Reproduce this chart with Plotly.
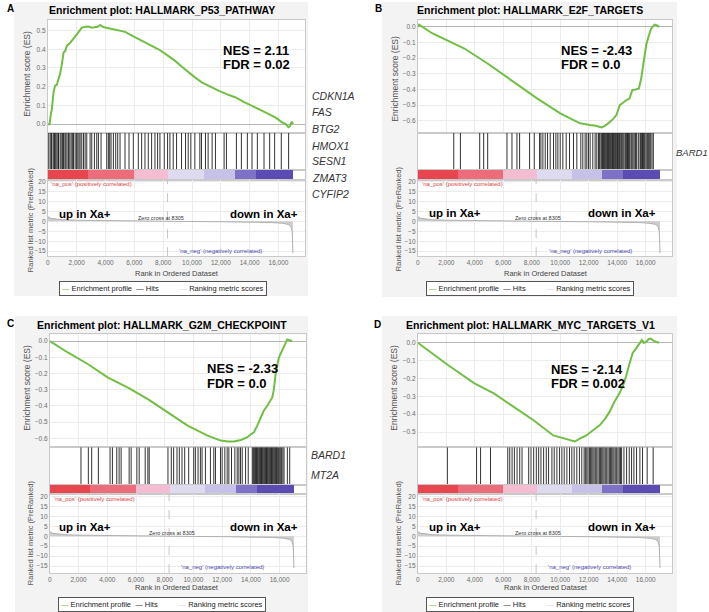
import plotly.graph_objects as go

W, H = 709, 612

# ---------------- data ----------------
panel_letters = ["A", "B", "C", "D"]
titles = ["Enrichment plot: HALLMARK_P53_PATHWAY",
          "Enrichment plot: HALLMARK_E2F_TARGETS",
          "Enrichment plot: HALLMARK_G2M_CHECKPOINT",
          "Enrichment plot: HALLMARK_MYC_TARGETS_V1"]
nes_labels = ["NES = 2.11", "NES = -2.43", "NES = -2.33", "NES = -2.14"]
fdr_labels = ["FDR = 0.02", "FDR = 0.0", "FDR = 0.0", "FDR = 0.002"]
genes_a = ["CDKN1A", "FAS", "BTG2", "HMOX1", "SESN1", "ZMAT3", "CYFIP2"]
genes_b = ["BARD1"]
genes_c = ["BARD1", "MT2A"]
genes_d = []

x_ticks = [0, 2000, 4000, 6000, 8000, 10000, 12000, 14000, 16000]
es_ticks_a = [0.0, 0.1, 0.2, 0.3, 0.4, 0.5]
es_ticks_b = [0.0, -0.1, -0.2, -0.3, -0.4, -0.5, -0.6]
es_ticks_c = [0.0, -0.1, -0.2, -0.3, -0.4, -0.5, -0.6]
es_ticks_d = [0.0, -0.1, -0.2, -0.3, -0.4, -0.5]
metric_ticks = [20, 15, 10, 5, 0, -5, -10, -15]

es_rank_a = [0, 118, 200, 277, 395, 506, 620, 742, 850, 971, 1089, 1200, 1318, 1500, 1664,
             1850, 2011, 2200, 2358, 2600, 2820, 3050, 3283, 3450, 3630, 3800, 3977, 4300,
             4670, 5000, 5363, 5900, 6519, 7100, 7675, 8250, 8830, 9300, 9755, 10200, 10680,
             11250, 11835, 12400, 12991, 13550, 14147, 14700, 15303, 15800, 16227, 16500,
             16690, 16800, 16921, 17000]
es_val_a = [0.0, 0.0, 0.05, 0.08, 0.17, 0.206, 0.21, 0.24, 0.27, 0.32, 0.383, 0.39, 0.419,
            0.43, 0.445, 0.46, 0.48, 0.50, 0.516, 0.52, 0.521, 0.515, 0.516, 0.52, 0.53, 0.52,
            0.516, 0.51, 0.504, 0.50, 0.493, 0.47, 0.445, 0.423, 0.40, 0.37, 0.338, 0.307,
            0.277, 0.25, 0.223, 0.20, 0.179, 0.16, 0.144, 0.12, 0.10, 0.078, 0.055, 0.035,
            0.011, 0.0, -0.016, -0.01, 0.014, 0.0]

es_rank_b = [0, 93, 1000, 2575, 3271, 4894, 6520, 8370, 10000, 11390, 12088, 12500, 12895,
             13100, 13360, 13700, 13940, 14175, 14400, 14640, 14850, 15055, 15300, 15520,
             15680, 15800, 16030, 16200, 16375, 16610, 16800, 16960]
es_val_b = [0.0, 0.015, -0.04, -0.106, -0.138, -0.234, -0.34, -0.457, -0.553, -0.617, -0.628,
            -0.632, -0.643, -0.635, -0.617, -0.59, -0.564, -0.50, -0.485, -0.468, -0.46,
            -0.404, -0.40, -0.394, -0.33, -0.244, -0.117, -0.06, -0.011, 0.015, 0.01, 0.0]

es_rank_c = [0, 1276, 2663, 4050, 5437, 6824, 8211, 9598, 10985, 11907, 12400, 12830, 13300,
             13758, 14000, 14216, 14450, 14681, 14900, 15146, 15350, 15492, 15600, 15721,
             15950, 16255, 16533, 16700, 16880]
es_val_c = [0.0, -0.072, -0.143, -0.225, -0.287, -0.358, -0.44, -0.522, -0.583, -0.614,
            -0.62, -0.62, -0.61, -0.593, -0.575, -0.563, -0.52, -0.471, -0.43, -0.399, -0.37,
            -0.348, -0.30, -0.205, -0.102, -0.041, 0.01, 0.005, 0.0]

es_rank_d = [0, 2088, 3946, 5338, 6729, 8121, 9513, 10000, 10439, 11020, 11400, 11830, 12300,
             12763, 13100, 13459, 13800, 14155, 14400, 14616, 14850, 15080, 15250, 15428,
             15600, 15727, 15850, 16006, 16200, 16354, 16590, 16938]
es_val_d = [0.0, -0.123, -0.226, -0.283, -0.359, -0.434, -0.519, -0.53, -0.538, -0.553,
            -0.535, -0.519, -0.49, -0.462, -0.43, -0.387, -0.33, -0.283, -0.24, -0.189,
            -0.12, -0.057, -0.04, -0.019, -0.005, 0.015, 0.0, 0.004, 0.02, 0.024, 0.009, 0.0]

hits_a = [60, 161, 240, 277, 380, 461, 540, 623, 700, 738, 850, 923, 1010, 1084, 1180, 1246,
          1330, 1430, 1520, 1615, 1700, 1776, 1892, 1980, 2076, 2160, 2238, 2353, 2470, 2584,
          2699, 2930, 3045, 3230, 3391, 3507, 3691, 4083, 4199, 4290, 4383, 4545, 4706, 4845,
          5006, 5352, 5629, 5929, 6275, 6506, 6736, 6967, 7198, 7429, 7613, 7775, 8075, 8305,
          8467, 8698, 8928, 9274, 9551, 9736, 9920, 10197, 10543, 10658, 10935, 11120, 11397,
          11627, 12227, 12389, 13081, 13427, 13842, 14165, 14534, 14996, 15388, 15734, 16195,
          16703]
hits_b = [2522, 2989, 4343, 4623, 4904, 6258, 6608, 6958, 7145, 7846, 8173, 8546, 8640, 8780,
          8943, 9107, 9293, 9527, 9690, 9830, 9994, 10181, 10414, 10648, 10928, 11161, 11442,
          11582, 11745, 11862, 11979, 12095, 12282, 12446, 12562, 12680, 12749, 12850, 12913,
          12970, 13029, 13090, 13146, 13200, 13263, 13320, 13380, 13440, 13496, 13550, 13613,
          13670, 13730, 13790, 13847, 13900, 13963, 14020, 14080, 14160, 14244, 14310, 14384,
          14460, 14547, 14600, 14664, 14720, 14781, 14840, 14897, 14990, 15084, 15170, 15248,
          15300, 15364, 15480, 15598, 15650, 15715, 15770, 15831, 15890, 15948, 16030, 16111,
          16180, 16252, 16345, 16440, 16532]
hits_c = [2167, 2680, 2913, 3379, 4194, 4357, 4660, 4823, 4963, 5522, 5662, 6058, 6221, 6641,
          6827, 6920, 8225, 8458, 8621, 8854, 9017, 9204, 9390, 9670, 10019, 10136, 10322,
          10485, 10602, 10835, 11184, 11417, 11534, 11883, 12000, 12186, 12349, 12466, 12652,
          12885, 13048, 13165, 13281, 13398, 13631, 13817, 14097, 14160, 14213, 14270, 14330,
          14390, 14447, 14500, 14563, 14620, 14679, 14740, 14796, 14850, 14912, 14970, 15029,
          15090, 15145, 15200, 15262, 15320, 15378, 15440, 15495, 15550, 15612, 15670, 15728,
          15790, 15844, 15920, 16007, 16080, 16147, 16230, 16310, 16543, 16706]
hits_d = [2074, 4124, 4404, 5103, 6314, 6454, 6617, 6780, 6967, 7153, 7316, 7782, 7945, 8132,
          8318, 8481, 8644, 8831, 9017, 9180, 9413, 9576, 9763, 9949, 10112, 10275, 10462,
          10648, 10811, 10974, 11161, 11347, 11510, 11673, 11760, 11860, 11950, 12046, 12130,
          12209, 12290, 12372, 12460, 12559, 12650, 12745, 12830, 12908, 12990, 13071, 13160,
          13258, 13350, 13444, 13520, 13607, 13690, 13770, 13860, 13957, 14050, 14143, 14230,
          14306, 14469, 14656, 14842, 15005, 15168, 15355, 15588, 15774, 16100, 16520]

metric_rank = [0, 50, 200, 500, 1000, 2000, 4000, 6000, 8305, 10000, 12000, 14000, 15500,
               16300, 16700, 16850, 16950, 16985, 17000]
metric_val = [2.6, 2.0, 1.5, 1.1, 0.8, 0.55, 0.3, 0.15, 0.0, -0.1, -0.2, -0.35, -0.6, -1.0,
              -1.6, -2.5, -5.0, -12.0, -16.0]
zero_cross = 8305
cbar_edges = [0, 2800, 6000, 8350, 10800, 12950, 14400, 17000]

# ---------------- styles / layout ----------------
cbar_colors = ["#e8464f", "#ec6c7a", "#f4bdd2", "#dedaf0", "#c6c1e7", "#7d72c8", "#5a4cb2"]
GREEN = "#72be44"
FONT = "Liberation Sans, Arial, sans-serif"
X_RANGE = [0, 17850]

es_ranks = [es_rank_a, es_rank_b, es_rank_c, es_rank_d]
es_vals = [es_val_a, es_val_b, es_val_c, es_val_d]
hits_all = [hits_a, hits_b, hits_c, hits_d]
es_ticks_all = [es_ticks_a, es_ticks_b, es_ticks_c, es_ticks_d]
genes_all = [genes_a, genes_b, genes_c, genes_d]

panels = [
    dict(L=46, R=304, es=(18.3, 131), hits=(131, 168.5), cb=(168.5, 178.3), rk=(178.3, 255),
         es_range=[-0.045, 0.555], rk_range=[-17.5, 20.9], bg=(12, 0, 307, 295),
         letter=(3, 7), title=(160, 8), nes=(220, 49, 63), up=(55, 213), down=(299, 213),
         zc=(159, 216.5), pos=(47, 183), neg=(263, 250), estitle=(25, 72), rktitle=(28, 218),
         xtitle=(175, 272), legend=(161, 287.5), genes=(309, [94, 110, 127, 144, 160, 177, 193]),
         gsize=10.5),
    dict(L=417, R=672, es=(18.3, 131), hits=(131, 168.5), cb=(168.5, 178.3), rk=(178.3, 255),
         es_range=[-0.676, 0.043], rk_range=[-17.5, 20.9], bg=(381, 0, 677, 296),
         letter=(372, 7), title=(529, 8), nes=(559, 49, 63), up=(426, 212), down=(658, 212),
         zc=(538, 217), pos=(419, 183), neg=(634, 250), estitle=(394, 77), rktitle=(397, 217),
         xtitle=(546, 272), legend=(529, 287.5), genes=(673.5, [151]), gsize=9.5),
    dict(L=48, R=305, es=(333.5, 446.7), hits=(446.7, 484.5), cb=(484.5, 494), rk=(494, 573),
         es_range=[-0.655, 0.041], rk_range=[-18.5, 21], bg=(13, 315, 307, 612),
         letter=(3, 323), title=(160, 324), nes=(204, 368, 383), up=(55, 527), down=(299, 527),
         zc=(170, 533), pos=(50, 499), neg=(265, 567), estitle=(25, 387), rktitle=(28, 532),
         xtitle=(175, 587), legend=(160.5, 604), genes=(308, [454, 475]), gsize=10.5),
    dict(L=417, R=672, es=(333.5, 446.7), hits=(446.7, 484.5), cb=(484.5, 494), rk=(494, 573),
         es_range=[-0.585, 0.047], rk_range=[-18.5, 21], bg=(381, 315, 677, 612),
         letter=(371, 324), title=(530, 324), nes=(549, 369, 383), up=(426, 527), down=(658, 527),
         zc=(538, 533), pos=(419, 499), neg=(633, 567), estitle=(393, 387), rktitle=(397, 532),
         xtitle=(546, 587), legend=(529, 604), genes=(675, []), gsize=10.5),
]


def fx(px):
    return px / W


def fy(py):
    return 1 - py / H


fig = go.Figure()
layout_axes = {}
shapes = []
annotations = []
counter = [0]


def new_axes(L, R, top, bottom, xr, yr, xkw=None, ykw=None):
    counter[0] += 1
    n = counter[0]
    sx = "" if n == 1 else str(n)
    xid, yid = "x" + sx, "y" + sx
    base = dict(showline=True, mirror=True, linecolor="#c9c9c9", linewidth=1, zeroline=False,
                showgrid=False, ticks="", showticklabels=False, fixedrange=True)
    xa = dict(base, domain=[fx(L), fx(R)], range=xr, anchor=yid)
    ya = dict(base, domain=[fy(bottom), fy(top)], range=yr, anchor=xid)
    if xkw:
        xa.update(xkw)
    if ykw:
        ya.update(ykw)
    layout_axes["xaxis" + sx] = xa
    layout_axes["yaxis" + sx] = ya
    shapes.append(dict(type="rect", xref=xid + " domain", yref=yid + " domain", x0=0, x1=1,
                       y0=0, y1=1, fillcolor="white", line=dict(width=0), layer="below"))
    return xid, yid


def ann(x, y, text, size, color="#000", bold=False, italic=False, xanchor="center",
        yanchor="middle", angle=0, **kw):
    t = text
    if bold:
        t = "<b>" + t + "</b>"
    if italic:
        t = "<i>" + t + "</i>"
    d = dict(x=fx(x), y=fy(y), xref="paper", yref="paper", text=t, showarrow=False,
             font=dict(size=size, color=color, family=FONT), xanchor=xanchor, yanchor=yanchor,
             textangle=angle)
    d.update(kw)
    annotations.append(d)


tickfont = dict(size=6.5, color="#6b6b6b", family=FONT)
grid = "#ececec"

# gray panel backgrounds
for p in panels:
    x0, y0, x1, y1 = p["bg"]
    shapes.append(dict(type="rect", xref="paper", yref="paper", x0=fx(x0), x1=fx(x1),
                       y0=fy(y1), y1=fy(y0), fillcolor="#f3f3f3", line=dict(width=0),
                       layer="below"))

for i, p in enumerate(panels):
    L, R = p["L"], p["R"]
    # ES plot
    xe, ye = new_axes(L, R, p["es"][0], p["es"][1], X_RANGE, p["es_range"],
                      xkw=dict(showgrid=True, gridcolor=grid, tickvals=x_ticks),
                      ykw=dict(showgrid=True, gridcolor=grid, tickvals=es_ticks_all[i],
                               showticklabels=True, tickformat=".1f", tickfont=tickfont,
                               zeroline=True, zerolinecolor="#b5b5b5", zerolinewidth=1))
    fig.add_trace(go.Scatter(x=es_ranks[i], y=es_vals[i], mode="lines",
                             line=dict(color=GREEN, width=2), xaxis=xe, yaxis=ye,
                             showlegend=False, hoverinfo="skip"))
    # hits
    xh, yh = new_axes(L, R, p["hits"][0], p["hits"][1], X_RANGE, [0, 1])
    hx, hy = [], []
    for h in hits_all[i]:
        hx += [h, h, None]
        hy += [0, 1, None]
    fig.add_trace(go.Scatter(x=hx, y=hy, mode="lines", line=dict(color="rgba(15,15,15,0.85)",
                             width=1), xaxis=xh, yaxis=yh, showlegend=False, hoverinfo="skip"))
    # color bar
    xc, yc = new_axes(L, R, p["cb"][0], p["cb"][1], X_RANGE, [0, 1])
    centers = [(cbar_edges[k] + cbar_edges[k + 1]) / 2 for k in range(len(cbar_edges) - 1)]
    widths = [cbar_edges[k + 1] - cbar_edges[k] for k in range(len(cbar_edges) - 1)]
    fig.add_trace(go.Bar(x=centers, y=[1] * len(centers), width=widths, base=0,
                         marker=dict(color=cbar_colors, line=dict(width=0)), xaxis=xc, yaxis=yc,
                         showlegend=False, hoverinfo="skip"))
    # ranked list metric
    xr_, yr_ = new_axes(L, R, p["rk"][0], p["rk"][1], X_RANGE, p["rk_range"],
                        xkw=dict(showgrid=True, gridcolor=grid, tickvals=x_ticks,
                                 showticklabels=True, tickformat=",d", tickfont=tickfont),
                        ykw=dict(showgrid=True, gridcolor=grid, tickvals=metric_ticks,
                                 showticklabels=True, tickfont=tickfont))
    fig.add_trace(go.Scatter(x=[zero_cross, zero_cross], y=p["rk_range"], mode="lines",
                             line=dict(color="#c4c4c4", width=1, dash="dash"), xaxis=xr_,
                             yaxis=yr_, showlegend=False, hoverinfo="skip"))
    fig.add_trace(go.Scatter(x=metric_rank, y=metric_val, mode="lines", fill="tozeroy",
                             fillcolor="#cdcdcd", line=dict(color="#b0b0b0", width=1),
                             xaxis=xr_, yaxis=yr_, showlegend=False, hoverinfo="skip"))

    # texts
    ann(*p["letter"], panel_letters[i], 10, bold=True, xanchor="left")
    ann(*p["title"], titles[i], 10.5, bold=True)
    nx, ny1, ny2 = p["nes"]
    ann(nx, ny1, nes_labels[i], 13, bold=True, xanchor="left")
    ann(nx, ny2, fdr_labels[i], 13, bold=True, xanchor="left")
    ann(*p["up"], "up in Xa+", 11.5, bold=True, xanchor="left")
    ann(*p["down"], "down in Xa+", 11.5, bold=True, xanchor="right")
    ann(*p["zc"], "Zero cross at " + str(zero_cross), 5.5, color="#333")
    ann(*p["pos"], "'na_pos' (positively correlated)", 6, color="#e0413f", xanchor="left")
    ann(*p["neg"], "'na_neg' (negatively correlated)", 6, color="#4a45b0", xanchor="right")
    ann(*p["estitle"], "Enrichment score (ES)", 8.5, color="#555", angle=-90)
    ann(*p["rktitle"], "Ranked list metric (PreRanked)", 7.5, color="#555", angle=-90)
    ann(*p["xtitle"], "Rank in Ordered Dataset", 7.5, color="#444")
    lx, ly = p["legend"]
    legend_text = ("<span style='color:%s'>—</span> Enrichment profile  "
                   "<span style='color:#333'>—</span> Hits          "
                   "<span style='color:#d6d6d6'>—</span> Ranking metric scores" % GREEN)
    ann(lx, ly, legend_text, 7.5, color="#222", bordercolor="#555", borderwidth=1,
        borderpad=2, bgcolor="#ffffff")
    gx, gys = p["genes"]
    for g, gy in zip(genes_all[i], gys):
        ann(gx, gy, g, p["gsize"], color="#333", italic=True, xanchor="left")

fig.update_layout(
    width=W, height=H, autosize=False,
    margin=dict(l=0, r=0, t=0, b=0, pad=0),
    paper_bgcolor="white", plot_bgcolor="white",
    font=dict(family=FONT),
    shapes=shapes, annotations=annotations,
    bargap=0, showlegend=False,
    **layout_axes,
)

fig.write_html("out.html", config={"displayModeBar": False},
               post_script="document.body.style.margin='0px';")
